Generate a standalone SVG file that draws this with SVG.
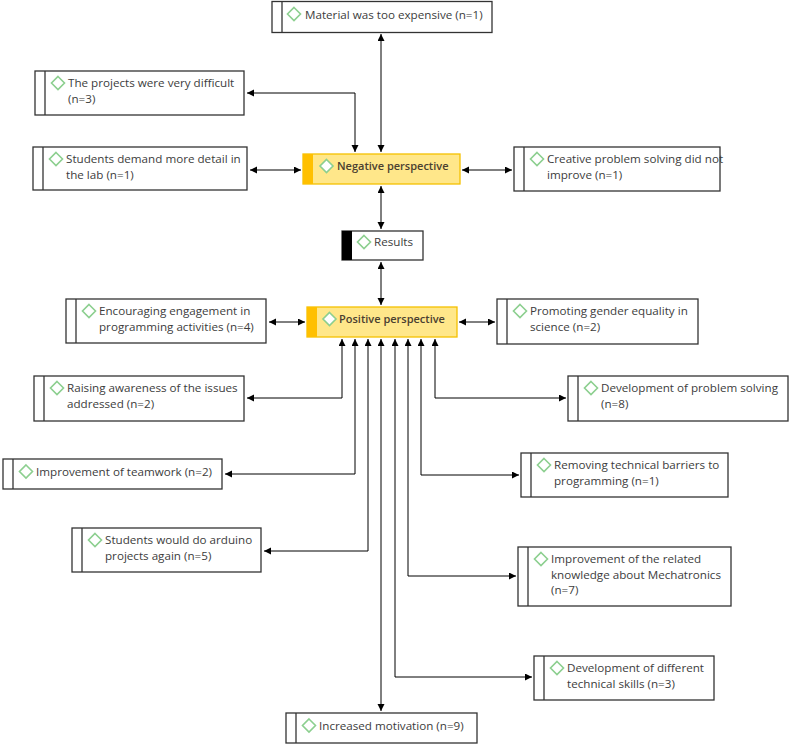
<svg xmlns="http://www.w3.org/2000/svg" width="790" height="746" viewBox="0 0 790 746">
<defs>
<style>
.box{fill:#fff;stroke:#333;stroke-width:1.3}
.bar{stroke:#333;stroke-width:1.3}
.t{font-family:"Open Sans","Noto Sans","Liberation Sans",sans-serif;font-size:11.65px;fill:#3c3c3c}
.d{fill:#fff;stroke:#8ccf8f;stroke-width:1.6}
.hl{fill:#ffe78a;stroke:#f5c000;stroke-width:1.3}
.hlbar{fill:#ffc000}
.ht{font-family:"Open Sans","Noto Sans","Liberation Sans",sans-serif;font-size:11px;fill:#4a4030;font-weight:600}
.c{fill:none;stroke:#000;stroke-width:1;marker-start:url(#ah);marker-end:url(#ah)}
</style>
<marker id="ah" markerUnits="userSpaceOnUse" markerWidth="8" markerHeight="8" refX="7" refY="3.5" orient="auto-start-reverse">
<path d="M0,0 L7,3.5 L0,7 z" fill="#000"/>
</marker>
<path id="dm" d="M0,-6.5 L6.5,0 L0,6.5 L-6.5,0 z"/>
</defs>

<g id="connectors">
<path class="c" d="M381,34 V152"/>
<path class="c" d="M247,93 H355 V152"/>
<path class="c" d="M250,170 H301"/>
<path class="c" d="M462,170 H512"/>
<path class="c" d="M381,186 V229"/>
<path class="c" d="M381,262 V305"/>
<path class="c" d="M269,322 H305"/>
<path class="c" d="M459,322 H495"/>
<path class="c" d="M342,339 V398 H247"/>
<path class="c" d="M355,339 V474 H225"/>
<path class="c" d="M368,339 V551 H264"/>
<path class="c" d="M381,339 V711"/>
<path class="c" d="M395,339 V677 H532"/>
<path class="c" d="M408,339 V576 H516"/>
<path class="c" d="M421,339 V475 H519"/>
<path class="c" d="M435,339 V398 H566"/>
</g>

<g id="material">
<rect class="box" x="272" y="1.5" width="220" height="31"/>
<line class="bar" x1="282" y1="1.5" x2="282" y2="32.5"/>
<use href="#dm" class="d" x="294" y="14"/>
<text class="t" x="305" y="18.5">Material was too expensive (n=1)</text>
</g>

<g id="projects">
<rect class="box" x="35" y="71" width="209" height="44"/>
<line class="bar" x1="45" y1="71" x2="45" y2="115"/>
<use href="#dm" class="d" x="58" y="83"/>
<text class="t" x="68" y="87">The projects were very difficult</text>
<text class="t" x="68" y="102.5">(n=3)</text>
</g>

<g id="demand">
<rect class="box" x="33" y="147" width="214" height="43"/>
<line class="bar" x1="43" y1="147" x2="43" y2="190"/>
<use href="#dm" class="d" x="56" y="159"/>
<text class="t" x="66" y="163">Students demand more detail in</text>
<text class="t" x="66" y="178.5">the lab (n=1)</text>
</g>

<g id="negative">
<rect class="hl" x="303" y="154" width="157" height="30"/>
<rect class="hlbar" x="303" y="154" width="10" height="30"/>
<use href="#dm" class="d" x="326.5" y="166"/>
<text class="ht" x="337" y="170">Negative perspective</text>
</g>

<g id="creative">
<rect class="box" x="514" y="147" width="206" height="44"/>
<line class="bar" x1="524" y1="147" x2="524" y2="191"/>
<use href="#dm" class="d" x="537" y="159"/>
<text class="t" x="547" y="163">Creative problem solving did not</text>
<text class="t" x="547" y="178.5">improve (n=1)</text>
</g>

<g id="results">
<rect class="box" x="342" y="231" width="81" height="29"/>
<rect x="342" y="231" width="10" height="29" fill="#000"/>
<use href="#dm" class="d" x="364" y="242"/>
<text class="t" x="374" y="246">Results</text>
</g>

<g id="positive">
<rect class="hl" x="307" y="307" width="150" height="30"/>
<rect class="hlbar" x="307" y="307" width="10" height="30"/>
<use href="#dm" class="d" x="329.5" y="319"/>
<text class="ht" x="339" y="323">Positive perspective</text>
</g>

<g id="encouraging">
<rect class="box" x="66" y="299" width="200" height="44"/>
<line class="bar" x1="76" y1="299" x2="76" y2="343"/>
<use href="#dm" class="d" x="89" y="311"/>
<text class="t" x="99" y="315">Encouraging engagement in</text>
<text class="t" x="99" y="330.5">programming activities (n=4)</text>
</g>

<g id="promoting">
<rect class="box" x="497" y="299" width="201" height="45"/>
<line class="bar" x1="507" y1="299" x2="507" y2="344"/>
<use href="#dm" class="d" x="520" y="311"/>
<text class="t" x="530" y="315">Promoting gender equality in</text>
<text class="t" x="530" y="330.5">science (n=2)</text>
</g>

<g id="raising">
<rect class="box" x="34" y="376" width="210" height="45"/>
<line class="bar" x1="44" y1="376" x2="44" y2="421"/>
<use href="#dm" class="d" x="57" y="388"/>
<text class="t" x="67" y="392">Raising awareness of the issues</text>
<text class="t" x="67" y="407.5">addressed (n=2)</text>
</g>

<g id="devproblem">
<rect class="box" x="568" y="376" width="220" height="45"/>
<line class="bar" x1="578" y1="376" x2="578" y2="421"/>
<use href="#dm" class="d" x="591" y="388"/>
<text class="t" x="601" y="392">Development of problem solving</text>
<text class="t" x="601" y="407.5">(n=8)</text>
</g>

<g id="teamwork">
<rect class="box" x="3" y="459" width="219" height="30"/>
<line class="bar" x1="13" y1="459" x2="13" y2="489"/>
<use href="#dm" class="d" x="26" y="471.5"/>
<text class="t" x="36" y="475.5">Improvement of teamwork (n=2)</text>
</g>

<g id="removing">
<rect class="box" x="521" y="453" width="207" height="44"/>
<line class="bar" x1="531" y1="453" x2="531" y2="497"/>
<use href="#dm" class="d" x="544" y="465"/>
<text class="t" x="554" y="469">Removing technical barriers to</text>
<text class="t" x="554" y="484.5">programming (n=1)</text>
</g>

<g id="arduino">
<rect class="box" x="72" y="528" width="189" height="44"/>
<line class="bar" x1="82" y1="528" x2="82" y2="572"/>
<use href="#dm" class="d" x="95" y="540"/>
<text class="t" x="105" y="544">Students would do arduino</text>
<text class="t" x="105" y="559.5">projects again (n=5)</text>
</g>

<g id="knowledge">
<rect class="box" x="518" y="547" width="213" height="59"/>
<line class="bar" x1="528" y1="547" x2="528" y2="606"/>
<use href="#dm" class="d" x="541" y="559"/>
<text class="t" x="551" y="563">Improvement of the related</text>
<text class="t" x="551" y="578.5">knowledge about Mechatronics</text>
<text class="t" x="551" y="594">(n=7)</text>
</g>

<g id="technical">
<rect class="box" x="534" y="656" width="180" height="44"/>
<line class="bar" x1="544" y1="656" x2="544" y2="700"/>
<use href="#dm" class="d" x="557" y="668"/>
<text class="t" x="567" y="672">Development of different</text>
<text class="t" x="567" y="687.5">technical skills (n=3)</text>
</g>

<g id="motivation">
<rect class="box" x="286" y="713" width="191" height="30"/>
<line class="bar" x1="296" y1="713" x2="296" y2="743"/>
<use href="#dm" class="d" x="309" y="725.5"/>
<text class="t" x="319" y="729.5">Increased motivation (n=9)</text>
</g>
</svg>
